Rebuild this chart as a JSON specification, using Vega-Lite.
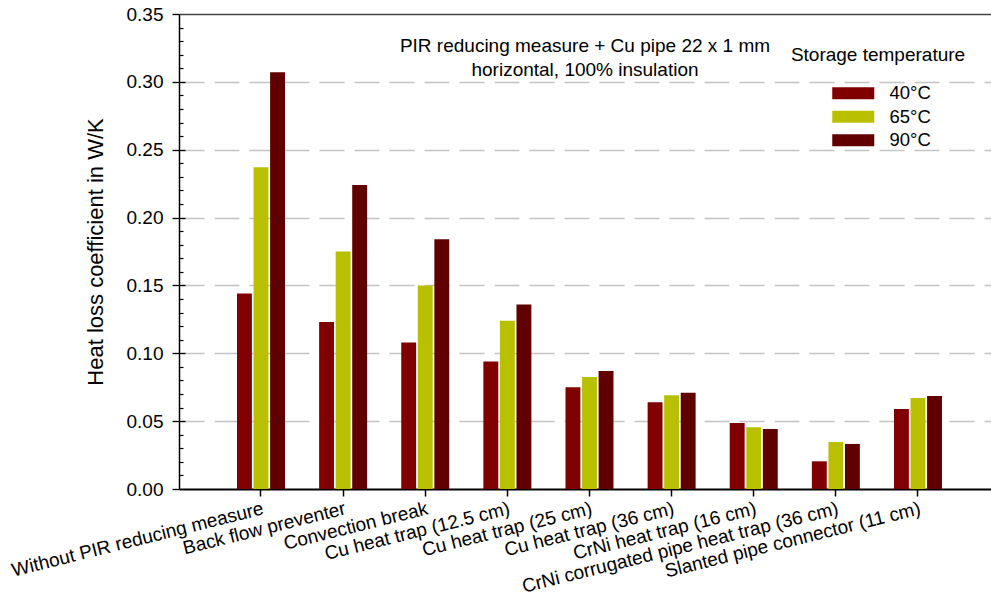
{
  "$schema": "https://vega.github.io/schema/vega-lite/v6.json",
  "width": 812,
  "height": 475,
  "autosize": {"type": "none"},
  "padding": {"left": 179, "top": 14, "right": 0, "bottom": 104},
  "background": "white",
  "config": {"font": "Liberation Sans", "view": {"stroke": null}},
  "title": {
    "text": ["PIR reducing measure + Cu pipe 22 x 1 mm", "horizontal, 100% insulation"],
    "fontSize": 19, "fontWeight": "normal", "color": "black", "lineHeight": 24,
    "anchor": "middle", "frame": "group", "baseline": "top", "offset": -75
  },
  "data": {"values": [
    {"measure": "Without PIR reducing measure", "temp": "40°C", "value": 0.144},
    {"measure": "Without PIR reducing measure", "temp": "65°C", "value": 0.237},
    {"measure": "Without PIR reducing measure", "temp": "90°C", "value": 0.307},
    {"measure": "Back flow preventer", "temp": "40°C", "value": 0.123},
    {"measure": "Back flow preventer", "temp": "65°C", "value": 0.175},
    {"measure": "Back flow preventer", "temp": "90°C", "value": 0.224},
    {"measure": "Convection break", "temp": "40°C", "value": 0.108},
    {"measure": "Convection break", "temp": "65°C", "value": 0.150},
    {"measure": "Convection break", "temp": "90°C", "value": 0.184},
    {"measure": "Cu heat trap (12.5 cm)", "temp": "40°C", "value": 0.094},
    {"measure": "Cu heat trap (12.5 cm)", "temp": "65°C", "value": 0.124},
    {"measure": "Cu heat trap (12.5 cm)", "temp": "90°C", "value": 0.136},
    {"measure": "Cu heat trap (25 cm)", "temp": "40°C", "value": 0.075},
    {"measure": "Cu heat trap (25 cm)", "temp": "65°C", "value": 0.0825},
    {"measure": "Cu heat trap (25 cm)", "temp": "90°C", "value": 0.087},
    {"measure": "Cu heat trap (36 cm)", "temp": "40°C", "value": 0.064},
    {"measure": "Cu heat trap (36 cm)", "temp": "65°C", "value": 0.069},
    {"measure": "Cu heat trap (36 cm)", "temp": "90°C", "value": 0.071},
    {"measure": "CrNi heat trap (16 cm)", "temp": "40°C", "value": 0.0486},
    {"measure": "CrNi heat trap (16 cm)", "temp": "65°C", "value": 0.0455},
    {"measure": "CrNi heat trap (16 cm)", "temp": "90°C", "value": 0.0442},
    {"measure": "CrNi corrugated pipe heat trap (36 cm)", "temp": "40°C", "value": 0.0204},
    {"measure": "CrNi corrugated pipe heat trap (36 cm)", "temp": "65°C", "value": 0.0346},
    {"measure": "CrNi corrugated pipe heat trap (36 cm)", "temp": "90°C", "value": 0.0332},
    {"measure": "Slanted pipe connector (11 cm)", "temp": "40°C", "value": 0.059},
    {"measure": "Slanted pipe connector (11 cm)", "temp": "65°C", "value": 0.067},
    {"measure": "Slanted pipe connector (11 cm)", "temp": "90°C", "value": 0.0685}
  ]},
  "layer": [
    {
      "mark": {"type": "bar", "strokeWidth": 0},
      "encoding": {
        "x": {
          "field": "measure", "type": "nominal", "sort": null,
          "scale": {"paddingInner": 0.4155, "paddingOuter": 0.6515, "align": 0.542},
          "axis": {
            "title": null, "labelAngle": -14, "labelAlign": "right", "labelBaseline": "top",
            "labelFontSize": 19, "labelColor": "black", "labelPadding": 3, "labelLimit": 500,
            "labelOverlap": false, "labelBound": false,
            "tickSize": 7, "tickColor": "black", "tickWidth": 1.5,
            "domainColor": "black", "domainWidth": 2, "grid": false
          }
        },
        "xOffset": {"field": "temp", "type": "nominal", "scale": {"paddingInner": 0.1, "paddingOuter": 0}},
        "y": {
          "field": "value", "type": "quantitative",
          "scale": {"domain": [0, 0.35], "nice": false, "zero": true},
          "axis": {
            "orient": "left",
            "values": [0, 0.05, 0.1, 0.15, 0.2, 0.25, 0.3, 0.35],
            "format": ".2f",
            "title": "Heat loss coefficient in W/K",
            "titleFontSize": 22, "titleFontWeight": "normal", "titleColor": "black", "titlePadding": 19,
            "labelFontSize": 19, "labelColor": "black", "labelPadding": 9,
            "tickSize": 7, "tickColor": "black", "tickWidth": 1.3,
            "domainColor": "black", "domainWidth": 1.5,
            "grid": true, "gridColor": "#c4c4c4", "gridDash": [25, 10], "gridWidth": 1.6,
            "gridOpacity": {"condition": {"test": "datum.value < 0.001 || datum.value > 0.34", "value": 0}, "value": 1}
          }
        },
        "color": {
          "field": "temp", "type": "nominal",
          "scale": {"domain": ["40°C", "65°C", "90°C"], "range": ["#800000", "#b9c000", "#600000"]},
          "legend": {
            "orient": "none", "legendX": 612, "legendY": 32,
            "title": "Storage temperature", "titleFontSize": 19, "titleFontWeight": "normal",
            "titleColor": "black", "titleAnchor": "middle", "titlePadding": 19,
            "labelFontSize": 18.5, "labelColor": "black", "labelOffset": 45,
            "symbolType": "M-0.5,-1H6.5V1H-0.5Z", "symbolSize": 144,
            "symbolStrokeWidth": 0, "symbolOpacity": 1, "rowPadding": 4.5, "padding": 0
          }
        }
      }
    },
    {
      "mark": {"type": "point", "opacity": 0},
      "encoding": {
        "x": {
          "field": "measure", "type": "nominal", "sort": null,
          "axis": {"orient": "top", "labels": false, "ticks": false, "title": null, "grid": false, "domainColor": "#444444", "domainWidth": 1.5}
        },
        "y": {
          "field": "value", "type": "quantitative",
          "axis": {
            "orient": "right", "offset": -812, "title": null, "labels": false, "domain": false, "grid": false,
            "values": [0.01, 0.02, 0.03, 0.04, 0.06, 0.07, 0.08, 0.09, 0.11, 0.12, 0.13, 0.14, 0.16, 0.17, 0.18, 0.19, 0.21, 0.22, 0.23, 0.24, 0.26, 0.27, 0.28, 0.29, 0.31, 0.32, 0.33, 0.34],
            "tickSize": 4, "tickColor": "black", "tickWidth": 1.2
          }
        }
      }
    },
    {
      "mark": {"type": "point", "opacity": 0},
      "encoding": {
        "x": {"field": "measure", "type": "nominal", "sort": null, "axis": null},
        "y": {
          "field": "value", "type": "quantitative",
          "axis": {
            "orient": "right", "offset": -812, "title": null, "labels": false, "domain": false, "grid": false,
            "values": [0.05, 0.1, 0.15, 0.2, 0.25, 0.3],
            "tickSize": 6, "tickColor": "black", "tickWidth": 1.3
          }
        }
      }
    }
  ],
  "resolve": {"axis": {"x": "independent", "y": "independent"}}
}
